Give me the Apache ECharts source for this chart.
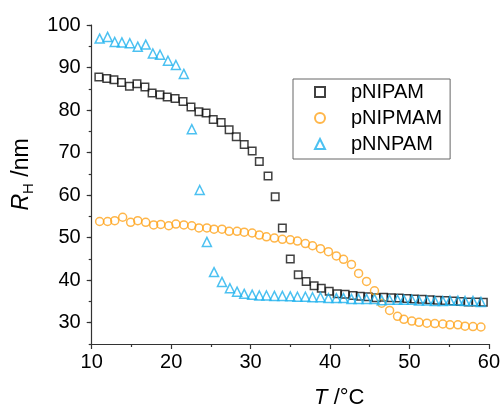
<!DOCTYPE html>
<html>
<head>
<meta charset="utf-8">
<script src="https://cdn.jsdelivr.net/npm/echarts@6/dist/echarts.min.js"></script>
<style>html,body{margin:0;padding:0;background:#fff;}#c{width:503px;height:414px;}</style>
</head>
<body>
<div id="c"></div>
<script>
// pNIPAM (black squares)
var tNIPAM = [10.9, 11.9, 12.8, 13.75, 14.75, 15.7, 16.7, 17.6, 18.6, 19.5, 20.5, 21.5, 22.5, 23.5, 24.4, 25.3, 26.3, 27.3, 28.2, 29.2, 30.2, 31.1, 32.2, 33.1, 34.0, 35.0, 36.0, 37.0, 38.0, 38.9, 39.9, 40.9, 41.9, 42.9, 43.8, 44.8, 45.8, 46.75, 47.7, 48.7, 49.7, 50.6, 51.6, 52.6, 53.5, 54.5, 55.5, 56.4, 57.4, 58.4, 59.3];
var rNIPAM = [87.8, 87.4, 87.1, 86.5, 85.6, 86.2, 85.4, 84.0, 83.6, 83.1, 82.7, 82.0, 80.7, 79.6, 79.3, 77.8, 77.1, 75.4, 73.7, 71.9, 70.4, 67.9, 64.5, 59.6, 52.3, 45.0, 41.3, 39.7, 38.7, 38.1, 37.4, 36.8, 36.7, 36.4, 36.2, 36.1, 35.9, 36.0, 35.9, 35.8, 35.7, 35.6, 35.5, 35.4, 35.3, 35.2, 35.1, 35.0, 34.9, 34.9, 34.8];
// pNIPMAM (orange circles)
var tNIPMAM = [11.0, 12.0, 12.9, 13.9, 14.9, 15.8, 16.8, 17.8, 18.7, 19.7, 20.6, 21.6, 22.6, 23.5, 24.5, 25.4, 26.4, 27.3, 28.3, 29.2, 30.2, 31.1, 32.0, 33.0, 34.0, 35.0, 35.9, 36.9, 37.8, 38.8, 39.8, 40.8, 41.7, 42.7, 43.6, 44.6, 45.6, 46.5, 47.5, 48.5, 49.3, 50.3, 51.2, 52.2, 53.2, 54.2, 55.1, 56.1, 57.0, 58.0, 59.0];
var rNIPMAM = [53.8, 53.8, 54.0, 54.8, 53.6, 54.0, 53.6, 53.0, 53.1, 52.8, 53.2, 53.0, 52.8, 52.3, 52.3, 52.0, 52.0, 51.5, 51.5, 51.3, 51.1, 50.6, 50.2, 49.9, 49.6, 49.5, 49.2, 48.6, 48.1, 47.4, 46.7, 45.7, 44.9, 43.7, 41.6, 39.7, 37.5, 34.6, 32.9, 31.5, 30.8, 30.4, 30.1, 29.9, 29.8, 29.7, 29.5, 29.5, 29.2, 29.1, 29.0];
// pNNPAM (cyan triangles)
var tNNPAM = [11.0, 12.0, 12.9, 13.8, 14.8, 15.8, 16.8, 17.7, 18.6, 19.6, 20.6, 21.6, 22.6, 23.6, 24.5, 25.4, 26.4, 27.4, 28.3, 29.2, 30.2, 31.1, 32.0, 33.0, 34.0, 35.0, 35.9, 36.9, 37.8, 38.8, 39.8, 40.8, 41.7, 42.7, 43.6, 44.6, 45.6, 46.5, 47.5, 48.5, 49.3, 50.3, 51.2, 52.2, 53.2, 54.2, 55.1, 56.1, 57.0, 58.0, 59.0];
var rNNPAM = [96.8, 97.2, 96.0, 95.9, 95.7, 94.9, 95.4, 93.3, 93.0, 91.6, 90.6, 88.5, 75.5, 61.2, 49.0, 41.9, 39.6, 38.1, 37.3, 36.8, 36.6, 36.4, 36.4, 36.3, 36.3, 36.2, 36.1, 36.1, 36.0, 36.0, 35.8, 35.8, 35.8, 35.6, 35.6, 35.6, 35.6, 35.3, 35.4, 35.4, 35.4, 35.4, 35.2, 35.2, 35.1, 35.1, 35.2, 35.2, 35.1, 35.1, 34.9];

var seriesNames = ['pNIPAM', 'pNIPMAM', 'pNNPAM'];
var yMajorTicks = [30, 40, 50, 60, 70, 80, 90, 100];

function pairs(t, r) { return t.map(function (v, i) { return [v, r[i]]; }); }

var FONT = '"Liberation Sans", Arial, sans-serif';
var AX = '#333333';

var chart = echarts.init(document.getElementById('c'), null, { renderer: 'canvas' });
chart.setOption({
  animation: false,
  backgroundColor: '#ffffff',
  textStyle: { fontFamily: FONT },
  grid: { left: 91.7, right: 12.3, top: 25, bottom: 67.3, containLabel: false },
  legend: {
    orient: 'vertical',
    left: 293, top: 79,
    padding: [3, 8, 5, 21],
    itemWidth: 10, itemHeight: 10,
    itemGap: 6,
    borderColor: '#666666', borderWidth: 1,
    textStyle: { fontFamily: FONT, fontSize: 20, color: '#000', lineHeight: 20, padding: [0, 0, 0, 21] },
    data: seriesNames
  },
  xAxis: {
    type: 'value', min: 10, max: 60, interval: 10,
    name: '{i|T} /°C',
    nameLocation: 'middle', nameGap: 43,
    nameTextStyle: {
      padding: [0, 0, 0, 98],
      rich: {
        i: { fontFamily: FONT, fontSize: 22, fontStyle: 'italic', color: '#000' }
      },
      fontFamily: FONT, fontSize: 22, color: '#000'
    },
    axisLine: { show: true, lineStyle: { color: AX, width: 1.2 } },
    axisTick: { show: true, inside: false, length: 5, lineStyle: { color: AX, width: 1.2 } },
    minorTick: { show: true, splitNumber: 2, length: 3, lineStyle: { color: AX, width: 1.2 } },
    axisLabel: { fontFamily: FONT, fontSize: 20, color: '#000', margin: 8 },
    splitLine: { show: false }
  },
  yAxis: [
    {
      type: 'value', min: 25, max: 100, interval: 5,
      name: '{i|R}{s|H} /nm',
      nameLocation: 'middle', nameGap: 44, nameRotate: 90,
      nameTextStyle: {
        fontFamily: FONT, fontSize: 23, color: '#000',
        padding: [0, 0, 0, 20],
        rich: {
          i: { fontFamily: FONT, fontSize: 23, fontStyle: 'italic', color: '#000', lineHeight: 30 },
          s: { fontFamily: FONT, fontSize: 15, color: '#000', verticalAlign: 'bottom', lineHeight: 15 }
        }
      },
      axisLine: { show: true, lineStyle: { color: AX, width: 1.2 } },
      axisTick: { show: true, length: 3, lineStyle: { color: AX, width: 1.2 } },
      axisLabel: {
        fontFamily: FONT, fontSize: 20, color: '#000', margin: 11,
        formatter: function (v) { return (v % 10 === 0) ? String(v) : ''; }
      },
      splitLine: { show: false }
    },
    {
      type: 'value', min: 25, max: 100, position: 'left', offset: 0,
      axisLine: { show: false },
      axisTick: { show: true, length: 5, customValues: yMajorTicks, lineStyle: { color: AX, width: 1.2 } },
      axisLabel: { show: false },
      splitLine: { show: false }
    }
  ],
  series: [
    {
      name: seriesNames[0], type: 'scatter', symbol: 'rect', symbolSize: 7.5,
      itemStyle: { color: 'rgba(255,255,255,0)', borderColor: '#111111', borderWidth: 1.5 },
      data: pairs(tNIPAM, rNIPAM)
    },
    {
      name: seriesNames[1], type: 'scatter', symbol: 'circle', symbolSize: 8,
      itemStyle: { color: 'rgba(255,255,255,0)', borderColor: '#FFA41C', borderWidth: 1.5 },
      data: pairs(tNIPMAM, rNIPMAM)
    },
    {
      name: seriesNames[2], type: 'scatter', symbol: 'triangle', symbolSize: [9, 9],
      itemStyle: { color: 'rgba(255,255,255,0)', borderColor: '#1FB2EE', borderWidth: 1.5 },
      data: pairs(tNNPAM, rNNPAM)
    }
  ]
});
</script>
</body>
</html>
